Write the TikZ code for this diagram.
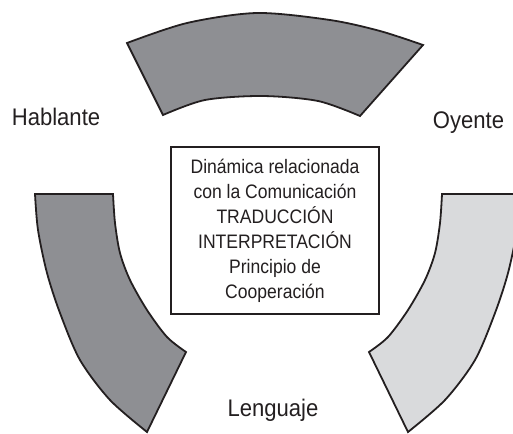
\documentclass[tikz,border=0pt]{standalone}
\usepackage{fontspec}
\setmainfont{Liberation Sans}
\newfontfamily\narrowlbl[FakeStretch=0.92]{Liberation Sans}
\newfontfamily\narrowbox[FakeStretch=0.9]{Liberation Sans}
\definecolor{darkband}{RGB}{142,143,147}
\definecolor{lightband}{RGB}{217,218,220}
\definecolor{inkline}{RGB}{35,31,32}
\begin{document}
\begin{tikzpicture}[x=1pt,y=-1pt,
  band/.style={draw=inkline,line width=1.8pt,line join=miter},
  lbl/.style={font=\narrowlbl\fontsize{24}{28}\selectfont,text=inkline,anchor=base,inner sep=0pt},
  centerbox/.style={draw=inkline,line width=1.8pt,fill=white,minimum width=208pt,minimum height=167pt,
    align=center,font=\narrowbox\fontsize{19.5}{25}\selectfont,text=inkline,inner sep=0pt}]
\useasboundingbox (0,0) rectangle (513,433);
\clip (0,0) rectangle (513,433);
% top band
\filldraw[band,fill=darkband] plot[smooth] coordinates {(127,43) (187,23) (257,13) (330,20) (380,31) (423,45)}
  -- plot[smooth] coordinates {(360,116) (318,101) (262,96) (205,100) (163,115)} -- cycle;
% left band
\filldraw[band,fill=darkband] (35,194) -- plot[smooth] coordinates {(113,194) (115,223) (120,253) (130,280) (147,310) (167,337) (186,352)}
  -- plot[smooth] coordinates {(147,432) (110,400) (80,360) (60,313) (47,273) (38,230) (35,194)} -- cycle;
% right band
\filldraw[band,fill=lightband] (520,194) -- plot[smooth] coordinates {(442,194) (440,223) (435,253) (425,280) (408,310) (388,337) (369,352)}
  -- plot[smooth] coordinates {(408,432) (445,400) (475,360) (495,313) (508,273) (517,230) (520,194)} -- cycle;
% central box
\node[centerbox] (box) at (275,230.5) {Dinámica relacionada\\con la Comunicación\\TRADUCCIÓN\\INTERPRETACIÓN\\Principio de\\Cooperación};
% labels
\node[lbl] (hablante) at (56,125) {Hablante};
\node[lbl] (oyente) at (468.5,128) {Oyente};
\node[lbl] (lenguaje) at (273,416) {Lenguaje};
\end{tikzpicture}
\end{document}
